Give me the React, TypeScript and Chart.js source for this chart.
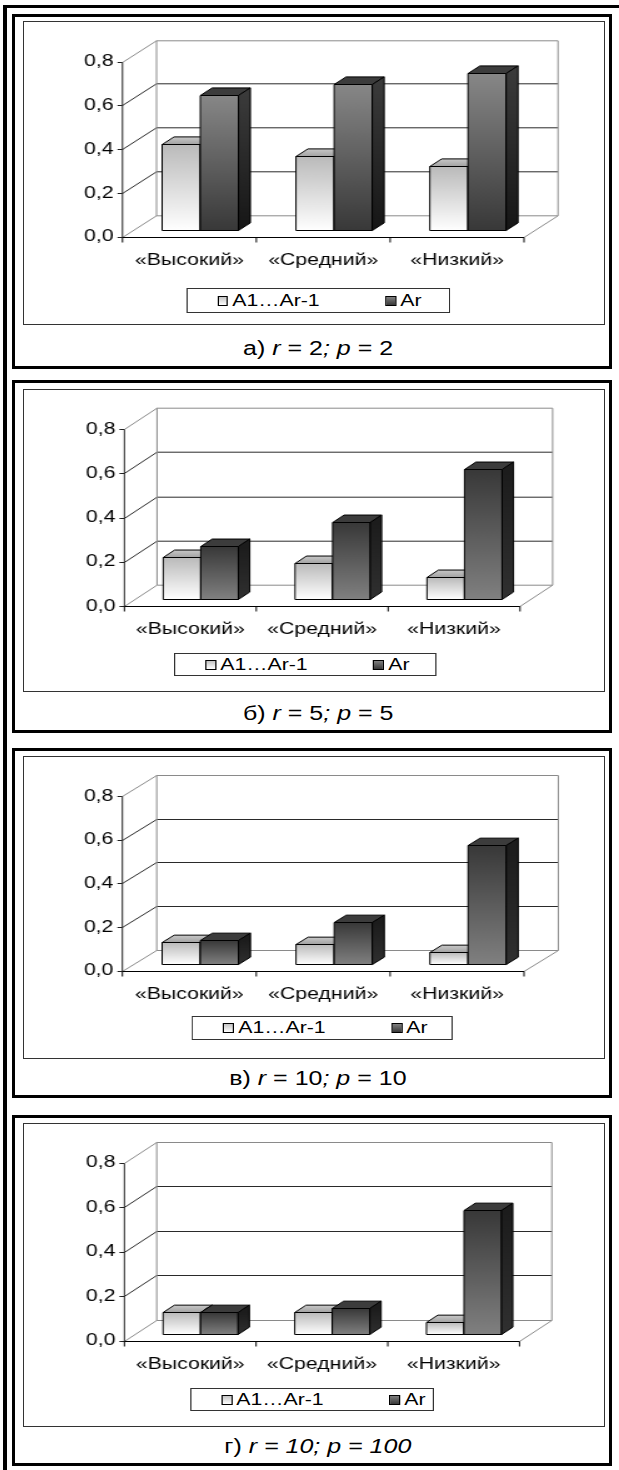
import React, { useEffect, useRef } from 'react';
import { Chart, registerables } from 'chart.js';

Chart.register(...registerables);

const categories = ['«Высокий»', '«Средний»', '«Низкий»'];
const seriesNames = ['A1…Ar-1', 'Ar'];
const yTickValues = [0, 0.2, 0.4, 0.6, 0.8];

const lowA = [0.39, 0.335, 0.29];
const highA = [0.615, 0.665, 0.715];
const lowB = [0.19, 0.165, 0.1];
const highB = [0.24, 0.35, 0.59];
const lowC = [0.1, 0.09, 0.055];
const highC = [0.11, 0.19, 0.545];
const lowD = [0.1, 0.1, 0.055];
const highD = [0.1, 0.115, 0.555];

type Part = [string, boolean];
const captionA: Part[] = [['а) ', false], ['r', true], [' = 2', false], ['; p', true], [' = 2', false]];
const captionB: Part[] = [['б) ', false], ['r', true], [' = 5', false], ['; p', true], [' = 5', false]];
const captionC: Part[] = [['в) ', false], ['r', true], [' = 10', false], ['; p', true], [' = 10', false]];
const captionD: Part[] = [['г) ', false], ['r = 10; p = 100', true]];

const K = 1.25; // horizontal stretch of the original picture
const FONT = '"Liberation Sans", Arial, Helvetica, sans-serif';
const FS = 17;
const F0 = 0.32; // depth position of bar front
const FD = 0.35; // bar depth
const EDGE = '#8a8a8a';
const GRID = '#2a2a2a';

const panels = [
  { top: 14, bottom: 369, inner: [21, 325], axisL: 122.5, axisR: 524, y08: 61.7, y0: 236.7, dx: 34, dy: 21.7, legend: [186, 288, 450, 313], capY: 348, low: lowA, high: highA, darkTopLight: true, caption: captionA },
  { top: 380, bottom: 733, inner: [389, 692], axisL: 124.4, axisR: 520, y08: 429, y0: 606, dx: 32.6, dy: 21.3, legend: [174, 653, 437, 676], capY: 713, low: lowB, high: highB, darkTopLight: false, caption: captionB },
  { top: 748, bottom: 1098, inner: [756, 1059], axisL: 122.4, axisR: 524, y08: 796, y0: 970.7, dx: 34.3, dy: 21, legend: [192, 1016, 453, 1040], capY: 1078, low: lowC, high: highC, darkTopLight: false, caption: captionC },
  { top: 1115, bottom: 1466, inner: [1123, 1427], axisL: 124.4, axisR: 519.5, y08: 1162.7, y0: 1340.7, dx: 32.3, dy: 21, legend: [190, 1388, 434, 1411], capY: 1446, low: lowD, high: highD, darkTopLight: false, caption: captionD },
];

const LEGEND_MARK = [30, 198];
const LEGEND_TEXT = [45, 213];

function Panel({ cfg }: { cfg: any }) {
  const ref = useRef<HTMLCanvasElement>(null);
  const innerTop = cfg.inner[0] + 1;
  const innerH = cfg.inner[1] - cfg.inner[0] - 2;

  useEffect(() => {
    const canvas = ref.current!;
    const padT = cfg.y08 - innerTop;
    const xH = cfg.inner[1] - 1 - cfg.y0;
    const yW = (cfg.axisL - 24) / K;
    const padR = (604 - cfg.axisR) / K;
    const DX = cfg.dx / K;
    const DY = cfg.dy;

    const line = (ctx: CanvasRenderingContext2D, x1: number, y1: number, x2: number, y2: number) => {
      ctx.beginPath();
      ctx.moveTo(x1, y1);
      ctx.lineTo(x2, y2);
      ctx.stroke();
    };
    const poly = (ctx: CanvasRenderingContext2D, pts: number[][], fill: any) => {
      ctx.beginPath();
      ctx.moveTo(pts[0][0], pts[0][1]);
      for (let i = 1; i < pts.length; i++) ctx.lineTo(pts[i][0], pts[i][1]);
      ctx.closePath();
      ctx.fillStyle = fill;
      ctx.fill();
      ctx.stroke();
    };

    const depthPlugin = {
      id: 'depth3d',
      beforeDatasetsDraw(chart: any) {
        const { ctx, chartArea: a, scales } = chart;
        const ys = scales.y;
        const L = a.left, R = a.right;
        const B = Math.round(ys.getPixelForValue(0)) + 0.5;
        const T = Math.round(ys.getPixelForValue(yTickValues[yTickValues.length - 1])) + 0.5;
        ctx.save();
        ctx.lineWidth = 1;
        yTickValues.forEach((v, i) => {
          const yy = Math.round(ys.getPixelForValue(v)) + 0.5;
          const edge = i === 0 || i === yTickValues.length - 1;
          ctx.strokeStyle = edge ? EDGE : GRID;
          line(ctx, L + DX, yy - DY, R + DX, yy - DY);
          line(ctx, L, yy, L + DX, yy - DY);
        });
        ctx.strokeStyle = EDGE;
        line(ctx, L + DX, T - DY, L + DX, B - DY);
        line(ctx, R + DX, T - DY, R + DX, B - DY);
        line(ctx, R, B, R + DX, B - DY);
        ctx.restore();
      },
      afterDatasetsDraw(chart: any) {
        const { ctx, chartArea: a, scales } = chart;
        const ys = scales.y;
        const xs = scales.x;
        ctx.save();
        ctx.lineWidth = 1;
        ctx.strokeStyle = '#000';
        ctx.lineJoin = 'miter';
        const bx = FD * DX, by = FD * DY;
        for (let i = 0; i < categories.length; i++) {
          for (let d = 0; d < 2; d++) {
            const el = chart.getDatasetMeta(d).data[i];
            const { x, y, base, width } = el.getProps(['x', 'y', 'base', 'width'], true);
            const x0 = x - width / 2 + F0 * DX;
            const x1 = x + width / 2 + F0 * DX;
            const yT = Math.round(y - F0 * DY) + 0.5;
            const yB = Math.round(base - F0 * DY) + 0.5;
            let front: any, topF: any, side: any;
            if (d === 0) {
              front = ctx.createLinearGradient(0, yT, 0, yB);
              front.addColorStop(0, '#bababa');
              front.addColorStop(1, '#ffffff');
              topF = ctx.createLinearGradient(0, yT - by, 0, yT);
              topF.addColorStop(0, '#c8c8c8');
              topF.addColorStop(1, '#a2a2a2');
              side = '#8c8c8c';
            } else {
              front = ctx.createLinearGradient(0, yT, 0, yB);
              if (cfg.darkTopLight) {
                front.addColorStop(0, '#878787');
                front.addColorStop(1, '#383838');
              } else {
                front.addColorStop(0, '#383838');
                front.addColorStop(1, '#808080');
              }
              topF = '#3c3c3c';
              side = ctx.createLinearGradient(0, yT, 0, yB);
              side.addColorStop(0, cfg.darkTopLight ? '#3a3a3a' : '#1c1c1c');
              side.addColorStop(1, cfg.darkTopLight ? '#161616' : '#303030');
            }
            poly(ctx, [[x0, yT], [x1, yT], [x1, yB], [x0, yB]], front);
            poly(ctx, [[x0, yT], [x1, yT], [x1 + bx, yT - by], [x0 + bx, yT - by]], topF);
            poly(ctx, [[x1, yT], [x1 + bx, yT - by], [x1 + bx, yB - by], [x1, yB]], side);
          }
        }
        // front axes
        const L = a.left, R = a.right;
        const B = Math.round(ys.getPixelForValue(0)) + 0.5;
        const T = Math.round(ys.getPixelForValue(yTickValues[yTickValues.length - 1])) + 0.5;
        ctx.strokeStyle = '#222';
        line(ctx, L, T, L, B);
        yTickValues.forEach((v) => {
          const yy = Math.round(ys.getPixelForValue(v)) + 0.5;
          line(ctx, L - 5 / K, yy, L, yy);
        });
        ctx.strokeStyle = '#000';
        line(ctx, L, B, R, B);
        const catW = xs.getPixelForValue(1) - xs.getPixelForValue(0);
        for (let j = 0; j <= categories.length; j++) {
          const xx = xs.getPixelForValue(0) - catW / 2 + catW * j;
          line(ctx, xx, B, xx, B + 5);
        }
        ctx.restore();
      },
    };

    const chart = new Chart(canvas, {
      type: 'bar',
      data: {
        labels: categories,
        datasets: [
          { label: seriesNames[0], data: cfg.low, backgroundColor: 'rgba(0,0,0,0)', borderWidth: 0, categoryPercentage: 0.57, barPercentage: 1 },
          { label: seriesNames[1], data: cfg.high, backgroundColor: 'rgba(0,0,0,0)', borderWidth: 0, categoryPercentage: 0.57, barPercentage: 1 },
        ],
      },
      options: {
        animation: false,
        responsive: true,
        maintainAspectRatio: false,
        events: [],
        layout: { padding: { left: 0, right: padR, top: padT, bottom: 0 } },
        plugins: { legend: { display: false }, tooltip: { enabled: false } },
        scales: {
          x: {
            grid: { display: false, drawTicks: false, tickLength: 0 },
            border: { display: false },
            ticks: { color: '#000', font: { family: FONT, size: FS }, padding: 13, maxRotation: 0, autoSkip: false },
            afterFit: (s: any) => { s.height = xH; },
          },
          y: {
            min: 0,
            max: 0.8,
            grid: { display: false, drawTicks: false, tickLength: 0 },
            border: { display: false },
            ticks: {
              color: '#000',
              font: { family: FONT, size: FS },
              padding: 9 / K,
              callback: (v: any) => Number(v).toFixed(1).replace('.', ','),
            },
            afterBuildTicks: (s: any) => { s.ticks = yTickValues.map((v) => ({ value: v })); },
            afterFit: (s: any) => { s.width = yW; },
          },
        },
      } as any,
      plugins: [depthPlugin],
    });
    return () => chart.destroy();
  }, []);

  const [lx1, ly1, lx2, ly2] = cfg.legend;
  const lh = ly2 - ly1;

  return (
    <>
      <div style={{ position: 'absolute', left: 12, top: cfg.top, width: 600, height: cfg.bottom - cfg.top, border: '3px solid #000', boxSizing: 'border-box' }} />
      <div style={{ position: 'absolute', left: 23, top: cfg.inner[0], width: 582, height: cfg.inner[1] - cfg.inner[0], border: '1px solid #333', boxSizing: 'border-box', background: '#fff' }}>
        <div style={{ position: 'absolute', left: 0, top: 0, width: 580 / K, height: innerH, transform: `scaleX(${K})`, transformOrigin: '0 0' }}>
          <canvas ref={ref} style={{ display: 'block' }} />
          <div style={{ position: 'absolute', left: (lx1 - 24) / K, top: ly1 - innerTop, width: (lx2 - lx1) / K, height: lh, border: '1px solid #333', boxSizing: 'border-box', background: '#fff' }}>
            {seriesNames.map((name, i) => (
              <React.Fragment key={name}>
                <span style={{ position: 'absolute', left: LEGEND_MARK[i] / K, top: (lh - 2 - 10) / 2, width: 11 / K, height: 10, border: '1px solid #000', boxSizing: 'border-box', background: i === 0 ? 'linear-gradient(#c4c4c4, #ffffff)' : 'linear-gradient(#808080, #383838)' }} />
                <span style={{ position: 'absolute', left: LEGEND_TEXT[i] / K, top: 0, lineHeight: `${lh - 2}px`, fontSize: FS, fontFamily: FONT, whiteSpace: 'nowrap', color: '#000' }}>{name}</span>
              </React.Fragment>
            ))}
          </div>
        </div>
      </div>
      <div style={{ position: 'absolute', left: 118, width: 400, top: cfg.capY - 12, height: 24, lineHeight: '24px', textAlign: 'center', fontFamily: FONT, fontSize: 20, color: '#000', whiteSpace: 'nowrap' }}>
        <span style={{ display: 'inline-block', transform: `scaleX(${K})` }}>
          {cfg.caption.map((p: Part, i: number) => (p[1] ? <i key={i}>{p[0]}</i> : <span key={i}>{p[0]}</span>))}
        </span>
      </div>
    </>
  );
}

export default function App() {
  return (
    <div style={{ position: 'absolute', left: 0, top: 0, width: 619, height: 1470, background: '#fff', overflow: 'hidden' }}>
      <div style={{ position: 'absolute', left: 3, top: 5, width: 616, height: 1465, borderTop: '3px solid #000', borderLeft: '4px solid #000', boxSizing: 'border-box' }} />
      {panels.map((cfg, i) => (
        <Panel key={i} cfg={cfg} />
      ))}
    </div>
  );
}
